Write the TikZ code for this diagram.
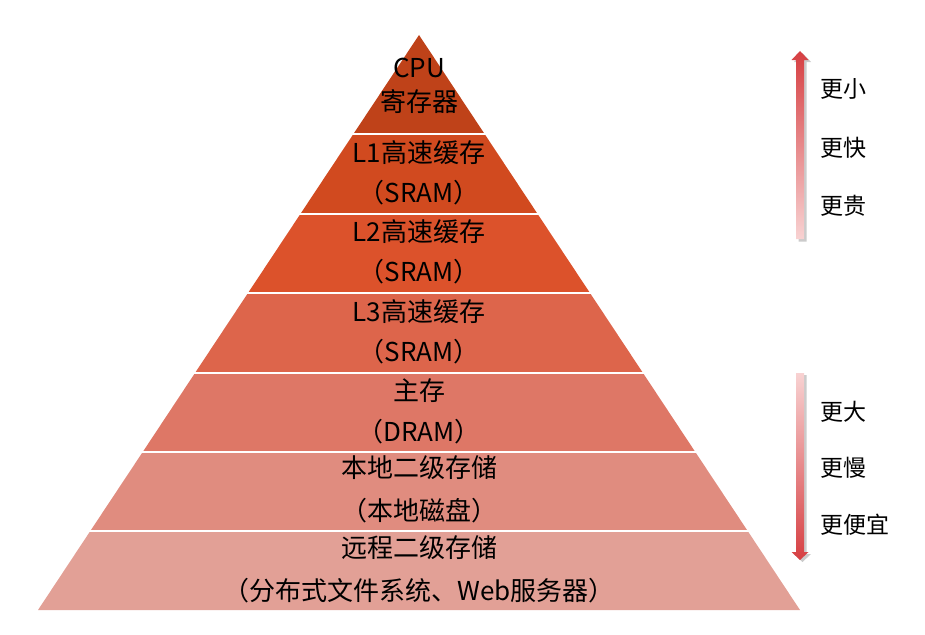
\documentclass[tikz,border=0pt]{standalone}
\usepackage{fontspec}
\setmainfont{Noto Sans CJK SC}
\definecolor{layerA}{HTML}{BF4219}
\definecolor{layerB}{HTML}{D14A1F}
\definecolor{layerC}{HTML}{DC522B}
\definecolor{layerD}{HTML}{DD654B}
\definecolor{layerE}{HTML}{DE7766}
\definecolor{layerF}{HTML}{E08C7F}
\definecolor{layerG}{HTML}{E2A096}
\definecolor{arrowDark}{HTML}{D63F42}
\definecolor{arrowLight}{HTML}{F8D2D2}
\tikzset{
  sep/.style={white, line width=2pt},
  lbl/.style={font=\fontsize{26}{28}\selectfont, inner sep=0pt},
  side/.style={font=\fontsize{23}{25}\selectfont, anchor=west, inner sep=0pt},
  shadowbar/.style={fill=black!45, opacity=.45},
}
\begin{document}
\begin{tikzpicture}[x=1pt,y=-1pt]
	\useasboundingbox (0,0) rectangle (925,634);
	% pyramid layers
	\fill[layerA] (419,35)--(484.6,134)--(353.4,134)--cycle;
	\fill[layerB] (353.4,134)--(484.6,134)--(537.3,213.5)--(300.7,213.5)--cycle;
	\fill[layerC] (300.7,213.5)--(537.3,213.5)--(590,293)--(248,293)--cycle;
	\fill[layerD] (248,293)--(590,293)--(643,373)--(195,373)--cycle;
	\fill[layerE] (195,373)--(643,373)--(695.3,452)--(142.7,452)--cycle;
	\fill[layerF] (142.7,452)--(695.3,452)--(747.7,531)--(90.3,531)--cycle;
	\fill[layerG] (90.3,531)--(747.7,531)--(800,610)--(38,610)--cycle;
	\draw[sep] (352,134)--(486,134);
	\draw[sep] (299,213.5)--(539,213.5);
	\draw[sep] (246,293)--(592,293);
	\draw[sep] (193,373)--(645,373);
	\draw[sep] (141,452)--(697,452);
	\draw[sep] (88,531)--(750,531);
	% layer texts
	\node[lbl] (cpu) at (419,68) {CPU};
	\node[lbl] (reg) at (419,102) {寄存器};
	\node[lbl] (lone) at (419,153) {L1高速缓存};
	\node[lbl] (loneB) at (419,193) {（SRAM）};
	\node[lbl] (ltwo) at (419,232) {L2高速缓存};
	\node[lbl] (ltwoB) at (419,272) {（SRAM）};
	\node[lbl] (lthree) at (419,312) {L3高速缓存};
	\node[lbl] (lthreeB) at (419,352) {（SRAM）};
	\node[lbl] (mem) at (419,391) {主存};
	\node[lbl] (memB) at (419,432) {（DRAM）};
	\node[lbl] (disk) at (419,468) {本地二级存储};
	\node[lbl] (diskB) at (419,511) {（本地磁盘）};
	\node[lbl] (remote) at (419,548) {远程二级存储};
	\node[lbl] (remoteB) at (419,591) {（分布式文件系统、Web服务器）};
	% arrows
	\fill[shadowbar] (798.5,62)--(794,62)--(802.5,53)--(811,62)--(806.5,62)--(806.5,241.5)--(798.5,241.5)--cycle;
	\shade[top color=arrowDark, bottom color=arrowLight] (796,60)--(791.5,60)--(800,51)--(808.5,60)--(804,60)--(804,239)--(796,239)--cycle;
	\fill[shadowbar] (798.5,375)--(806.5,375)--(806.5,554)--(811,554)--(802.5,562)--(794,554)--(798.5,554)--cycle;
	\shade[top color=arrowLight, bottom color=arrowDark] (796,373)--(804,373)--(804,552)--(808.5,552)--(800,560)--(791.5,552)--(796,552)--cycle;
	% side texts
	\node[side] (small) at (820,89) {更小};
	\node[side] (fast) at (820,148) {更快};
	\node[side] (dear) at (820,206) {更贵};
	\node[side] (big) at (820,412) {更大};
	\node[side] (slow) at (820,468) {更慢};
	\node[side] (cheap) at (820,525) {更便宜};
\end{tikzpicture}
\end{document}
